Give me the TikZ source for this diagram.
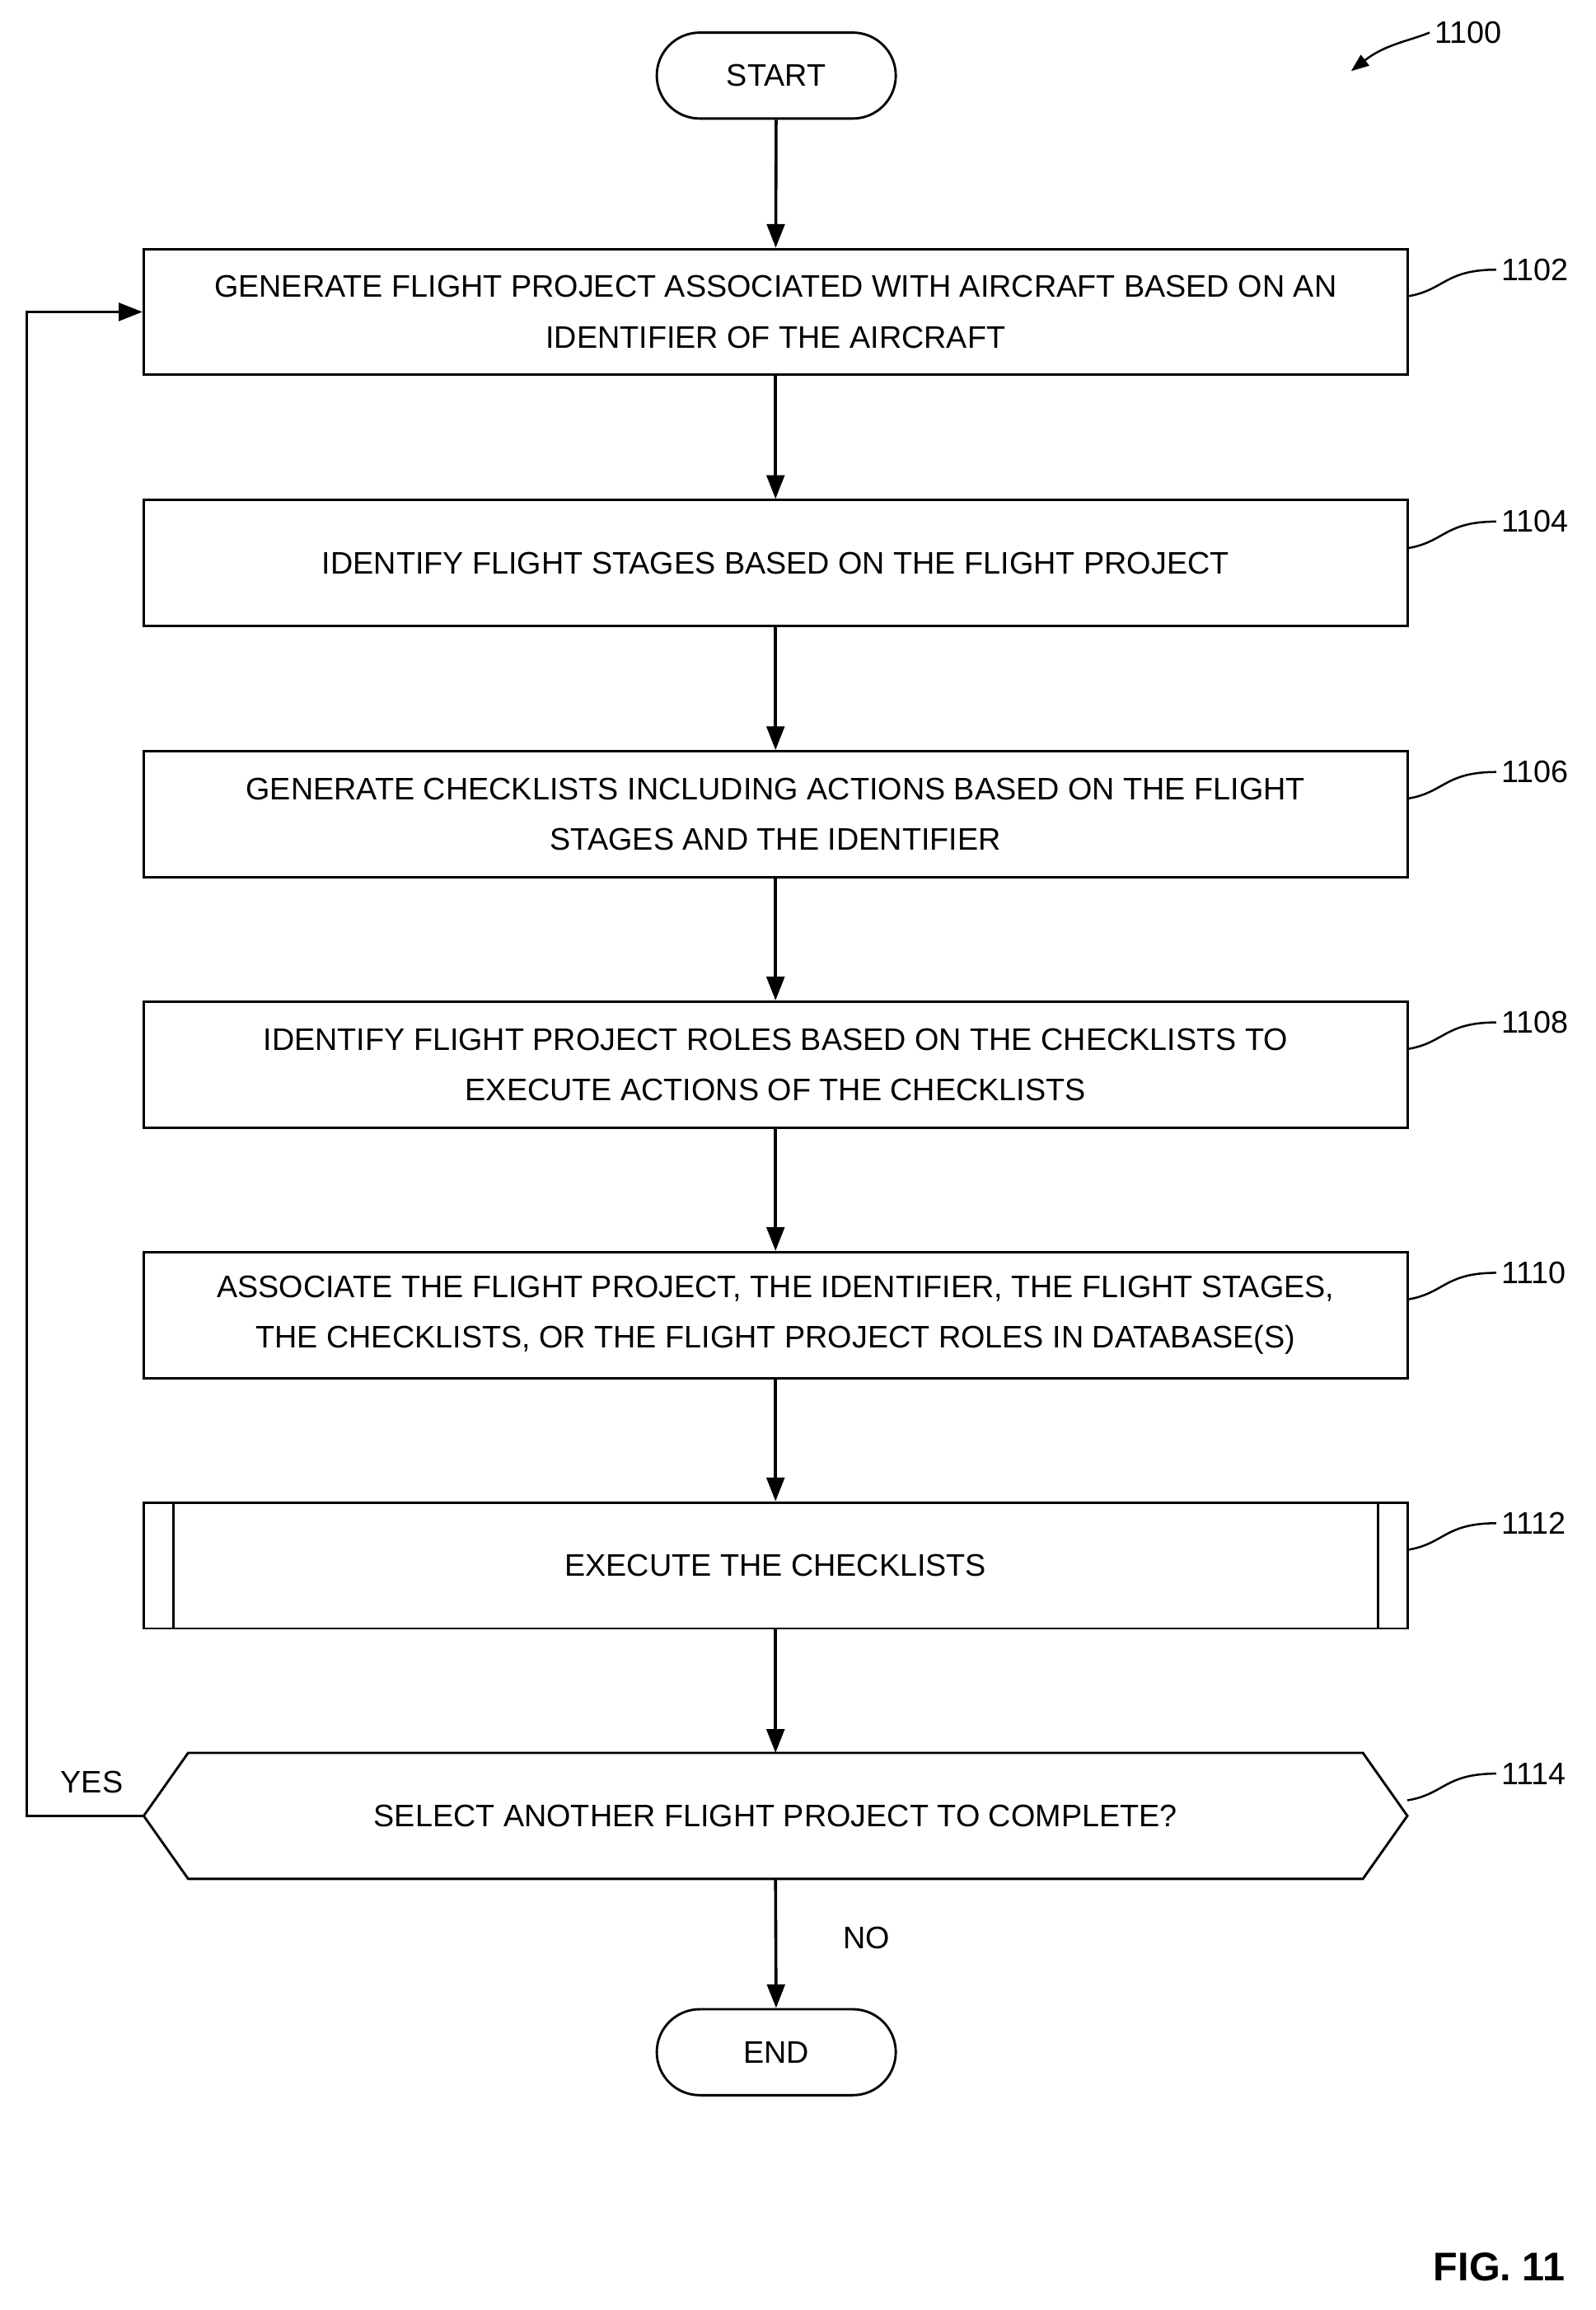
\documentclass[tikz,border=0pt]{standalone}
\usepackage{fontspec}
\setmainfont{Liberation Sans}
\usetikzlibrary{arrows.meta,shapes.misc}
\begin{document}
\begin{tikzpicture}[x=1pt,y=-1pt,
  box/.style={draw,line width=1.6pt,minimum width=853pt,minimum height=85pt,align=center,font=\fontsize{21}{34}\selectfont,inner sep=0pt},
  term/.style={draw,line width=1.6pt,rounded rectangle,minimum width=168pt,minimum height=58pt,font=\fontsize{21}{25}\selectfont},
  arr/.style={line width=2pt,-{Triangle[length=16pt,width=12pt]}},
  lbl/.style={font=\fontsize{21}{25}\selectfont},
  lead/.style={line width=1.4pt}]
\useasboundingbox (0,0) rectangle (1077,1559);
\node[term] (start) at (524,51) {START};
\node[box] (b1102) at (523.5,210.5) {GENERATE FLIGHT PROJECT ASSOCIATED WITH AIRCRAFT BASED ON AN\\IDENTIFIER OF THE AIRCRAFT};
\node[box] (b1104) at (523.5,380) {IDENTIFY FLIGHT STAGES BASED ON THE FLIGHT PROJECT};
\node[box] (b1106) at (523.5,549.5) {GENERATE CHECKLISTS INCLUDING ACTIONS BASED ON THE FLIGHT\\STAGES AND THE IDENTIFIER};
\node[box] (b1108) at (523.5,718.5) {IDENTIFY FLIGHT PROJECT ROLES BASED ON THE CHECKLISTS TO\\EXECUTE ACTIONS OF THE CHECKLISTS};
\node[box] (b1110) at (523.5,887.5) {ASSOCIATE THE FLIGHT PROJECT, THE IDENTIFIER, THE FLIGHT STAGES,\\THE CHECKLISTS, OR THE FLIGHT PROJECT ROLES IN DATABASE(S)};
\node[box] (b1112) at (523.5,1056.5) {EXECUTE THE CHECKLISTS};
\draw[line width=1.6pt] (117,1014) -- (117,1099) (930,1014) -- (930,1099);
\node[lbl] (q) at (523.5,1225.5) {SELECT ANOTHER FLIGHT PROJECT TO COMPLETE?};
\coordinate (hl) at (97,1225.5);
\coordinate (hr) at (950,1225.5);
\draw[line width=1.6pt] (hl) -- (127,1183) -- (920,1183) -- (hr) -- (920,1268) -- (127,1268) -- cycle;
\coordinate (htop) at (523.5,1183);
\coordinate (hbot) at (523.5,1268);
\node[term] (end) at (524,1385) {END};
\draw[arr] (start) -- (b1102);
\draw[arr] (b1102) -- (b1104);
\draw[arr] (b1104) -- (b1106);
\draw[arr] (b1106) -- (b1108);
\draw[arr] (b1108) -- (b1110);
\draw[arr] (b1110) -- (b1112);
\draw[arr] (b1112) -- (htop);
\draw[arr] (hbot) -- (end);
\draw[arr] (hl) -- (18,1225.5) -- (18,210.5) -- (b1102.west);
\node[lbl] (yes) at (62,1203) {YES};
\node[lbl] (no) at (585,1308) {NO};
\foreach \n/\y in {1102/168,1104/338,1106/507,1108/676,1110/845,1112/1014,1114/1183}{
  \node[lbl,anchor=west] (l\n) at (1010,\y+14) {\n};
  \draw[lead] (950,\y+32) .. controls (975,\y+28) and (975,\y+14) .. (l\n.west);
}
\node[lbl,anchor=west] (l1100) at (965,22) {1100};
\coordinate (p1100) at (912,48);
\draw[line width=1.4pt,-{Triangle[length=12pt,width=9pt]}] (l1100.west) .. controls (950,28) and (935,30) .. (p1100);
\node[font=\bfseries\fontsize{27}{30}\selectfont] (fig) at (1012,1530) {FIG. 11};
\end{tikzpicture}
\end{document}
